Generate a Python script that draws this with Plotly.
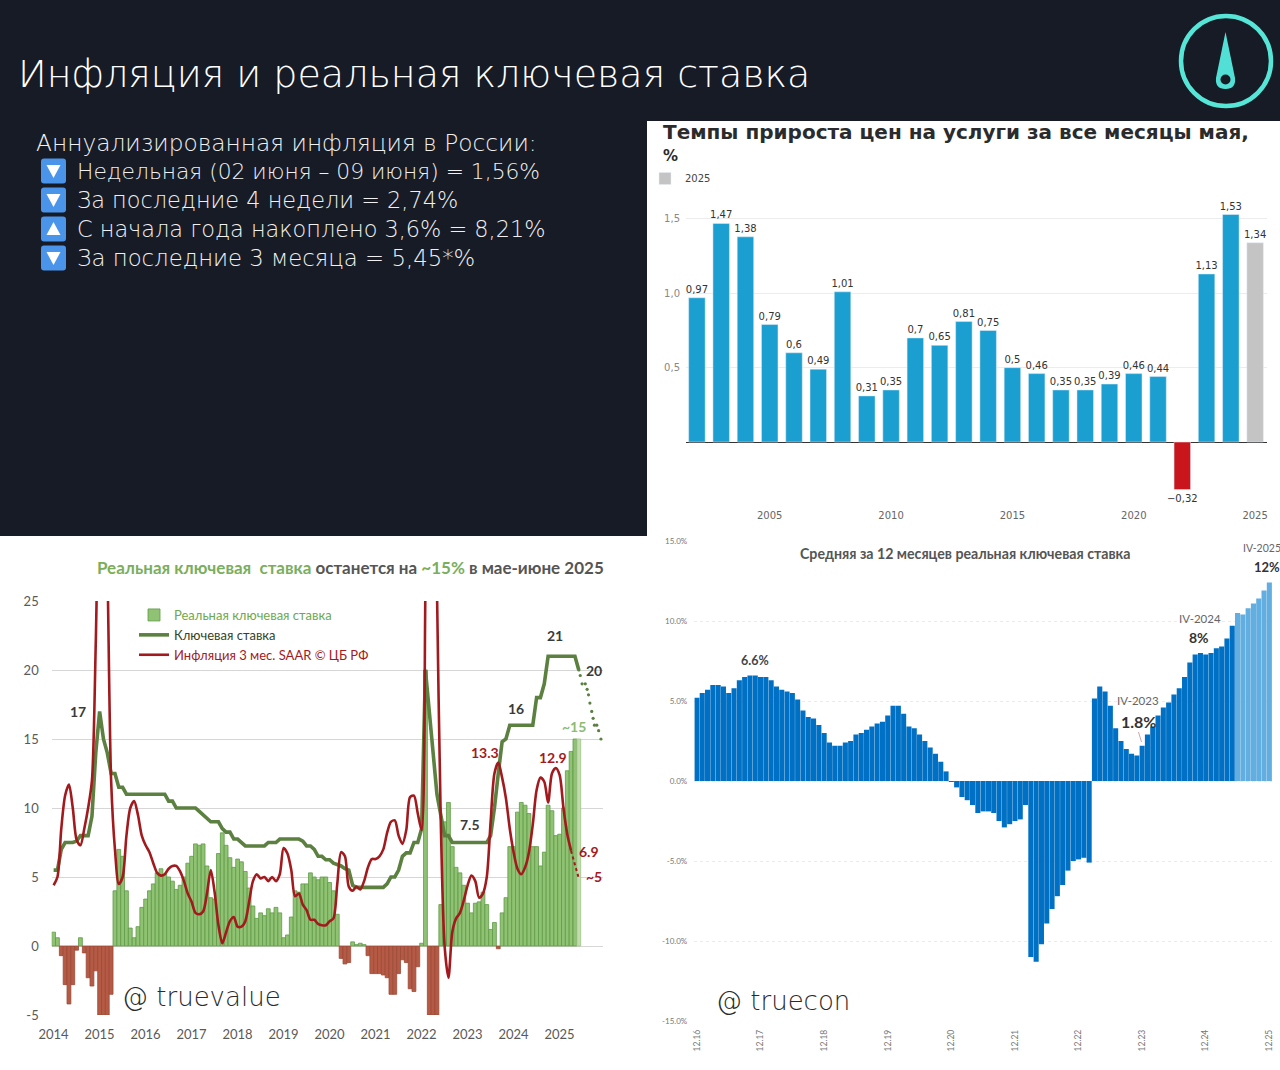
import plotly.graph_objects as go

W, H = 1280, 1070
def px(x): return x / W
def py(y): return 1 - y / H

# ---------- Chart 1: services price growth, May of each year ----------
may_years = list(range(2002, 2026))
may_values = [0.97, 1.47, 1.38, 0.79, 0.6, 0.49, 1.01, 0.31, 0.35, 0.7, 0.65, 0.81,
              0.75, 0.5, 0.46, 0.35, 0.35, 0.39, 0.46, 0.44, -0.32, 1.13, 1.53, 1.34]
may_labels = ["0,97", "1,47", "1,38", "0,79", "0,6", "0,49", "1,01", "0,31", "0,35", "0,7", "0,65", "0,81",
              "0,75", "0,5", "0,46", "0,35", "0,35", "0,39", "0,46", "0,44", "−0,32", "1,13", "1,53", "1,34"]

# ---------- Chart 2: monthly, Jan 2014 - Jun 2025 ----------
real_rate = [
    1.0, 0.6, -0.7, -2.8, -4.2, -2.8, -0.3, 0.6, -0.5, -2.3, -2.9, -1.8,
    -5, -5, -5, -3.5, 4.0, 7.0, 6.5, 4.0, 1.3, 0.6, 1.4, 2.8,
    3.4, 4.0, 4.5, 5.3, 5.6, 5.2, 5.0, 4.7, 4.1, 4.4, 5.0, 6.0,
    6.5, 7.4, 7.3, 7.4, 5.8, 3.5, 3.4, 6.7, 8.2, 7.3, 6.4, 5.7,
    6.3, 6.1, 5.4, 4.2, 2.9, 2.0, 2.4, 2.2, 2.7, 2.4, 2.8, 2.4,
    0.6, 0.8, 2.1, 4.0, 3.9, 4.5, 4.5, 5.3, 5.0, 4.8, 5.0, 5.0,
    4.6, 4.0, 2.3, -0.9, -1.3, -1.2, 0.3, 0.1, 0.2, 0.1, -0.7, -2.0,
    -2.0, -2.0, -2.1, -2.3, -3.5, -3.5, -2.0, -1.0, -1.2, -3.1, -3.3, -1.5,
    0.2, 20, -5, -5, -5, 3.0, 9.0, 10.4, 7.2, 5.7, 5.3, 4.4,
    3.1, 2.4, 3.1, 3.2, 3.9, 3.0, 1.2, 1.7, -0.2, 2.4, 3.5, 7.2,
    7.2, 9.7, 10.4, 10.2, 9.6, 7.2, 7.2, 5.8, 6.8, 10.2, 9.8, 8.0,
    8.1, 10.0, 12.7, 14.1, 15, 15]
key_rate = [
    5.5, 5.5, 7.0, 7.5, 7.5, 7.5, 7.6, 8, 8, 8, 9.4, 14,
    17, 15, 14, 12.5, 12.5, 11.5, 11.5, 11, 11, 11, 11, 11,
    11, 11, 11, 11, 11, 11, 10.5, 10.5, 10, 10, 10, 10,
    10, 10, 9.75, 9.5, 9.25, 9, 9, 9, 8.5, 8.25, 8.25, 7.75,
    7.75, 7.5, 7.25, 7.25, 7.25, 7.25, 7.25, 7.25, 7.5, 7.5, 7.5, 7.75,
    7.75, 7.75, 7.75, 7.75, 7.75, 7.6, 7.25, 7.25, 7.0, 6.5, 6.5, 6.25,
    6.25, 6, 5.9, 5.8, 5.6, 5.5, 4.4, 4.25, 4.25, 4.25, 4.25, 4.25,
    4.25, 4.25, 4.25, 4.5, 5, 5, 5.5, 6.5, 6.75, 6.75, 7.5, 7.5,
    8.5, 20, 17, 14, 11, 9.5, 8, 8, 7.5, 7.5, 7.5, 7.5,
    7.5, 7.5, 7.5, 7.5, 7.5, 7.5, 8, 10, 12.5, 14.8, 15, 16,
    16, 16, 16, 16, 16, 16, 18, 18, 19, 21, 21, 21,
    21, 21, 21, 21, 21, 20]
key_fc_x = [2025.46, 2025.49, 2025.53, 2025.60, 2025.64, 2025.67, 2025.70, 2025.74, 2025.77, 2025.80, 2025.85, 2025.89, 2025.94]
key_fc_y = [20, 19.6, 19, 19, 18.6, 18.2, 17.6, 17, 16.5, 16, 16, 15.6, 15]
inflation = [
    4.4, 5.0, 8.5, 10.9, 11.7, 10, 7.7, 7.3, 8.5, 10, 12, 22,
    35, 38, 28, 12, 7, 4.5, 5, 8, 10, 10.5, 9.5, 8,
    7.3, 6.8, 6, 5.3, 5.1, 5.2, 5.6, 5.8, 5.8, 5.4, 4.7, 3.8,
    3.2, 2.4, 2.3, 2.5, 3.8, 5.5, 3.9, 1.5, 0.2, 1.0, 1.8, 2.1,
    1.4, 1.4, 1.8, 3.2, 4.7, 5.2, 4.9, 5.0, 4.7, 5.0, 4.7, 5.2,
    7.1, 6.7, 5.5, 3.6, 3.8, 3.0, 2.6, 1.9, 1.9, 1.6, 1.5, 1.5,
    1.8, 2.0, 4.5, 6.8, 6.5, 4.3, 4.0, 4.3, 4.1, 4.7, 5.7, 6.3,
    6.3, 6.5, 7.0, 8.2, 9.0, 9.1, 8.0, 7.4, 8.4, 10.8, 10.9, 9.6,
    8.4, 26, 45, 45, 26, 9, 0, -2.3, 1.0, 2.0, 2.4, 3.3,
    4.4, 5.1, 4.7, 3.5, 3.8, 5, 9, 12.5, 13.3, 12.2, 10.7, 8.5,
    6.8, 5.6, 5.2, 5.7, 6.8, 8.8, 11.3, 12.2, 11.9, 10.4, 12.5, 12.9,
    12.4, 10, 8.1, 6.9]
infl_fc_x = [2025.29, 2025.45]
infl_fc_y = [6.9, 5]
year_ticks = list(range(2014, 2026))
rate_ticks = [-5, 0, 5, 10, 15, 20, 25]
rate_labels = ["-5", "0", "5", "10", "15", "20", "25"]

# ---------- Chart 3: 12-month average real key rate, Dec 2016 - Dec 2025 ----------
avg_real = [
    5.2, 5.5, 5.7, 6.0, 6.0, 5.9, 5.5, 5.8, 6.3, 6.5, 6.6, 6.6,
    6.5, 6.5, 6.3, 5.9, 5.7, 5.6, 5.5, 5.1, 4.4, 4.0, 3.9, 3.5,
    3.0, 2.4, 2.2, 2.2, 2.4, 2.5, 2.9, 3.0, 3.2, 3.4, 3.6, 3.7,
    4.1, 4.7, 4.7, 4.2, 3.4, 3.3, 2.9, 2.5, 2.1, 1.7, 1.2, 0.6,
    -0.05, -0.4, -1.0, -1.2, -1.5, -2.0, -1.9, -1.9, -2.0, -2.5, -2.9, -2.7,
    -2.5, -2.4, -1.5, -11.0, -11.3, -10.2, -8.9, -8.0, -7.2, -6.5, -5.6, -5.0,
    -4.9, -4.8, -5.1, 5.15, 5.9, 5.6, 4.7, 3.3, 2.5, 2.0, 1.7, 1.6,
    2.2, 2.9, 3.4, 4.1, 4.6, 4.9, 5.4, 5.8, 6.5, 7.4, 7.9, 8.0,
    7.9, 8.0, 8.3, 8.4, 8.9, 9.7, 10.5, 10.4, 10.8, 11.1, 11.4, 11.9, 12.4]
avg_first_forecast = 102
dec_ticks = list(range(0, 109, 12))
dec_labels = ["12.16", "12.17", "12.18", "12.19", "12.20", "12.21", "12.22", "12.23", "12.24", "12.25"]
pct_ticks = [15, 10, 5, 0, -5, -10, -15]
pct_labels = ["15.0%", "10.0%", "5.0%", "0.0%", "-5.0%", "-10.0%", "-15.0%"]

DARK = "#161b26"
SLIDE = "DejaVu Sans"
NARROW = "Lato"
GREEN_D = "#5b8040"
GREEN_L = "#8fc272"
RED = "#a31a1e"

fig = go.Figure()

# chart 1
fig.add_trace(go.Bar(x=may_years[:-1], y=may_values[:-1], text=may_labels[:-1], textposition="outside",
                     marker=dict(color=["#c8161c" if v < 0 else "#1b9fd0" for v in may_values[:-1]]),
                     width=0.68, cliponaxis=False, textangle=0, showlegend=False, constraintext="none",
                     textfont=dict(family="DejaVu Sans", size=10, color="#333333"),
                     xaxis="x", yaxis="y"))
fig.add_trace(go.Bar(x=may_years[-1:], y=may_values[-1:], text=may_labels[-1:], textposition="outside",
                     marker=dict(color="#c4c4c4"), width=0.68, cliponaxis=False, textangle=0, constraintext="none",
                     name="2025", showlegend=True, legend="legend",
                     textfont=dict(family="DejaVu Sans", size=10, color="#333333"),
                     xaxis="x", yaxis="y"))

# chart 2
months = [2014 + (i + 0.5) / 12 for i in range(len(real_rate))]
bar_fill = [("#b55b45" if v < 0 else GREEN_L) for v in real_rate]
bar_line = [("#9a4a38" if v < 0 else "#5f9a48") for v in real_rate]
bar_fill[-1] = "#c2dcae"; bar_line[-1] = "#9cc488"
fig.add_trace(go.Bar(x=months, y=real_rate, width=1/12, xaxis="x2", yaxis="y2",
                     marker=dict(color=bar_fill, line=dict(color=bar_line, width=0.8)),
                     name="<span style='color:#6fa84f'>Реальная ключевая ставка</span>", legend="legend2"))
fig.add_trace(go.Scatter(x=months, y=key_rate, mode="lines", xaxis="x2", yaxis="y2",
                         line=dict(color=GREEN_D, width=3.6, shape="linear"),
                         name="<span style='color:#33451f'>Ключевая ставка</span>", legend="legend2"))
fig.add_trace(go.Scatter(x=key_fc_x, y=key_fc_y, mode="markers", xaxis="x2", yaxis="y2", showlegend=False,
                         marker=dict(color=GREEN_D, size=3.2)))
fig.add_trace(go.Scatter(x=months[:len(inflation)], y=inflation, mode="lines", xaxis="x2", yaxis="y2",
                         line=dict(color=RED, width=2.6, shape="spline", smoothing=0.8),
                         name="<span style='color:#a31a1e'>Инфляция 3 мес. SAAR © ЦБ РФ</span>", legend="legend2"))
fig.add_trace(go.Scatter(x=infl_fc_x, y=infl_fc_y, mode="lines", xaxis="x2", yaxis="y2", showlegend=False,
                         line=dict(color=RED, width=2, dash="dot")))

# chart 3
avg_colors = ["#0070c4" if i < avg_first_forecast else "#62aee0" for i in range(len(avg_real))]
fig.add_trace(go.Bar(x=list(range(len(avg_real))), y=avg_real, xaxis="x3", yaxis="y3", showlegend=False,
                     marker=dict(color=avg_colors, line=dict(width=0)), width=0.96))

# ---------- decoration ----------
shapes = [
    dict(type="rect", xref="paper", yref="paper", x0=px(647), x1=1, y0=py(121), y1=py(536),
         fillcolor="white", line_width=0, layer="below"),
    dict(type="rect", xref="paper", yref="paper", x0=0, x1=1, y0=py(536), y1=0,
         fillcolor="white", line_width=0, layer="below"),
    # logo
    dict(type="circle", xref="paper", yref="paper", x0=px(1181), x1=px(1271), y0=py(106), y1=py(16),
         line=dict(color="#56e6d8", width=4.5)),
    dict(type="path", xref="paper", yref="paper", fillcolor="#52e0d6", line_width=0,
         path=f"M {px(1225.5)} {py(32)} L {px(1235)} {py(78)} Q {px(1236)} {py(89)} {px(1225.5)} {py(89)} "
              f"Q {px(1215)} {py(89)} {px(1216)} {py(78)} Z"),
    dict(type="circle", xref="paper", yref="paper", x0=px(1220.5), x1=px(1230.5), y0=py(84.5), y1=py(74.5),
         fillcolor=DARK, line_width=0),
    # leader of the IV-2023 note
    dict(type="line", xref="paper", yref="paper", x0=px(1138.5), x1=px(1141.5), y0=py(732), y1=py(742),
         line=dict(color="#c9a9a9", width=1)),
]
for cy, down in [(171, True), (200, True), (229, False), (258, True)]:
    x0, x1, y0, y1 = 41, 66, cy - 12.5, cy + 12.5
    r = 3
    shapes.append(dict(type="path", xref="paper", yref="paper", fillcolor="#4a94ea", line_width=0,
        path=f"M {px(x0+r)} {py(y0)} L {px(x1-r)} {py(y0)} Q {px(x1)} {py(y0)} {px(x1)} {py(y0+r)} "
             f"L {px(x1)} {py(y1-r)} Q {px(x1)} {py(y1)} {px(x1-r)} {py(y1)} L {px(x0+r)} {py(y1)} "
             f"Q {px(x0)} {py(y1)} {px(x0)} {py(y1-r)} L {px(x0)} {py(y0+r)} Q {px(x0)} {py(y0)} {px(x0+r)} {py(y0)} Z"))
    if down:
        tri = f"M {px(46.5)} {py(cy-6)} L {px(60.5)} {py(cy-6)} L {px(53.5)} {py(cy+7)} Z"
    else:
        tri = f"M {px(46.5)} {py(cy+6)} L {px(60.5)} {py(cy+6)} L {px(53.5)} {py(cy-7)} Z"
    shapes.append(dict(type="path", xref="paper", yref="paper", fillcolor="#ffffff", line_width=0, path=tri))

def note(text, x, y, size, color="#333333", family=NARROW, xanchor="center", weight=None, xref="paper", yref="paper"):
    f = dict(family=family, size=size, color=color)
    if weight: f["weight"] = weight
    return dict(text=text, x=px(x) if xref == "paper" else x, y=py(y) if yref == "paper" else y,
                xref=xref, yref=yref, xanchor=xanchor, yanchor="middle", showarrow=False, font=f)

def n2(text, x, y, size=14, color="#3a3a3a", weight="bold"):
    return note(text, x, y, size, color=color, family=NARROW, weight=weight, xref="x2", yref="y2")

annotations = [
    note("Инфляция и реальная ключевая ставка", 16, 74, 38, "#ffffff", SLIDE, "left", 200),
    note("Аннуализированная инфляция в России:", 34, 142, 23.3, "#f0f0f0", SLIDE, "left", 200),
    note("Недельная (02 июня – 09 июня) = 1,56%", 75, 171, 21.8, "#f0f0f0", SLIDE, "left", 200),
    note("За последние 4 недели = 2,74%", 75, 200, 22.4, "#f0f0f0", SLIDE, "left", 200),
    note("С начала года накоплено 3,6% = 8,21%", 75, 229, 22.4, "#f0f0f0", SLIDE, "left", 200),
    note("За последние 3 месяца = 5,45*%", 75, 258, 22.8, "#f0f0f0", SLIDE, "left", 200),
    note("Темпы прироста цен на услуги за все месяцы мая,", 661, 132, 20, "#2b2b2b", "DejaVu Sans", "left", "bold"),
    note("%", 661, 156, 15, "#2b2b2b", "DejaVu Sans", "left", "bold"),
    note("<span style='color:#7aae5c'>Реальная ключевая  ставка</span> останется на "
         "<span style='color:#7aae5c'>~15%</span> в мае-июне 2025", 95, 567, 17, "#555555", NARROW, "left", "bold"),
    n2("17", 2014.57, 17),
    n2("21", 2024.95, 22.5),
    n2("20", 2025.8, 20),
    n2("16", 2024.1, 17.2),
    n2("~15", 2025.35, 15.9, color="#8dbb73"),
    n2("13.3", 2023.41, 14.05, color="#a31a1e"),
    n2("12.9", 2024.9, 13.65, color="#a31a1e"),
    n2("7.5", 2023.1, 8.8),
    n2("6.9", 2025.68, 6.85, color="#a31a1e"),
    n2("~5", 2025.8, 5.05, color="#a31a1e"),
    note("@ truevalue", 120, 997, 26, "#2a2a2a", SLIDE, "left", 200),
    note("@ truecon", 714, 1001, 26, "#2a2a2a", SLIDE, "left", 200),
    note("Средняя за 12 месяцев реальная ключевая ставка", 965, 553, 14.2, "#555555", NARROW, "center", "bold"),
    note("6.6%", 755, 660, 12.5, "#444444", NARROW, "center", "bold"),
    note("IV-2023", 1138, 700, 11.5, "#666666", NARROW),
    note("1.8%", 1138, 721, 16, "#333333", NARROW, "center", "bold"),
    note("IV-2024", 1200, 618, 11.5, "#666666", NARROW),
    note("8%", 1199, 637, 14, "#333333", NARROW, "center", "bold"),
    note("IV-2025", 1262, 548, 10.5, "#666666", NARROW),
    note("12%", 1267, 567, 13, "#333333", NARROW, "center", "bold"),
]

fig.update_layout(
    width=W, height=H, margin=dict(l=0, r=0, t=0, b=0, autoexpand=False),
    paper_bgcolor=DARK, plot_bgcolor="rgba(0,0,0,0)", barmode="overlay",
    shapes=shapes, annotations=annotations,
    font=dict(family="Lato"),
    # chart 1 axes
    xaxis=dict(domain=[px(686), px(1267)], range=[2001.55, 2025.49], anchor="y", tickmode="array",
               tickvals=[2005, 2010, 2015, 2020, 2025], ticktext=["2005", "2010", "2015", "2020", "2025"],
               showgrid=False, zeroline=False, showline=False, ticks="", ticklabelstandoff=6,
               tickfont=dict(family="DejaVu Sans", size=10, color="#666666")),
    yaxis=dict(domain=[py(501.5), py(204.1)], range=[-0.4, 1.6], anchor="x", tickmode="array",
               tickvals=[0.5, 1.0, 1.5], ticktext=["0,5", "1,0", "1,5"], showgrid=True, gridcolor="#ececec",
               zeroline=True, zerolinecolor="#333333", zerolinewidth=1.2, showline=False, ticks="",
               ticklabelstandoff=5,
               tickfont=dict(family="DejaVu Sans", size=10, color="#888888")),
    # chart 2 axes
    xaxis2=dict(domain=[px(51.7), px(603)], range=[2014, 2025.985], anchor="y2", tickmode="array",
                tickvals=[y + 0.04 for y in year_ticks], ticktext=[str(y) for y in year_ticks],
                showgrid=False, zeroline=False, showline=False, ticks="", ticklabelstandoff=10,
                tickfont=dict(family="Lato", size=13, color="#595959")),
    yaxis2=dict(domain=[py(1015), py(601)], range=[-5, 25], anchor="x2", tickmode="array",
                tickvals=rate_ticks, ticktext=rate_labels, showgrid=True,
                gridcolor="#d6d6d6", gridwidth=1.2, zeroline=True, zerolinecolor="#d6d6d6", zerolinewidth=1.2,
                showline=False, ticks="", ticklabelstandoff=12,
                tickfont=dict(family="Lato", size=13, color="#595959")),
    # chart 3 axes
    xaxis3=dict(domain=[px(694.3), px(1272)], range=[-0.5, 108.5], anchor="y3", tickmode="array",
                tickvals=dec_ticks, ticktext=dec_labels, tickangle=-90, showgrid=False, zeroline=False,
                showline=False, ticks="", ticklabelstandoff=6,
                tickfont=dict(family="Lato", size=8.5, color="#777777")),
    yaxis3=dict(domain=[py(1021), py(541)], range=[-15, 15], anchor="x3", tickmode="array",
                tickvals=pct_ticks, ticktext=pct_labels, showgrid=True, gridcolor="#ebebeb", griddash="dot",
                zeroline=False, showline=False, ticks="", ticklabelstandoff=6,
                tickfont=dict(family=NARROW, size=8, color="#777777")),
    legend=dict(x=px(645), y=py(164), xanchor="left", yanchor="top", bgcolor="rgba(0,0,0,0)",
                font=dict(family="DejaVu Sans", size=10, color="#444444")),
    legend2=dict(x=px(134), y=py(600), xanchor="left", yanchor="top", bgcolor="rgba(0,0,0,0)",
                 traceorder="normal", font=dict(family=NARROW, size=13)),
)

fig.write_html("out.html", config={"displayModeBar": False},
               post_script="document.body.style.margin='0';document.documentElement.style.overflow='hidden';")
